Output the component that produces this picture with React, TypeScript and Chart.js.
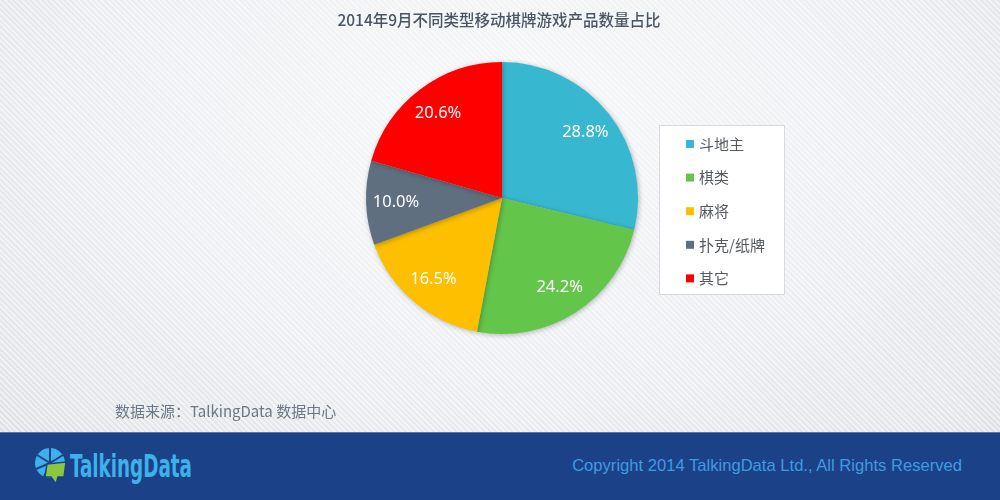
import React, { useEffect, useRef } from "react";
import { Chart, registerables } from "chart.js";

Chart.register(...registerables);

const title = "2014年9月不同类型移动棋牌游戏产品数量占比";
const categories = ["斗地主", "棋类", "麻将", "扑克/纸牌", "其它"];
const values = [28.8, 24.2, 16.5, 10.0, 20.6];
const colors = ["#38b8d0", "#63c54a", "#fdbf00", "#5f6f80", "#fe0000"];
const sourceText = "数据来源：TalkingData 数据中心";
const copyrightText = "Copyright 2014 TalkingData Ltd., All Rights Reserved";

const CJK = '"Noto Sans CJK SC", "Noto Sans", sans-serif';

const titlePlugin = {
  id: "titleText",
  afterDraw(chart: any) {
    const ctx = chart.ctx;
    ctx.save();
    ctx.font = `500 15.5px ${CJK}`;
    ctx.fillStyle = "#4a5563";
    ctx.textAlign = "center";
    ctx.textBaseline = "middle";
    ctx.fillText(title, 499, 20);
    ctx.restore();
  },
};

const shadowPlugin = {
  id: "pieShadow",
  beforeDatasetsDraw(chart: any) {
    const ctx = chart.ctx;
    ctx.save();
    ctx.shadowColor = "rgba(0,0,0,0.28)";
    ctx.shadowBlur = 5;
    ctx.shadowOffsetX = 1;
    ctx.shadowOffsetY = 1;
  },
  afterDatasetsDraw(chart: any) {
    chart.ctx.restore();
  },
};

const labelPlugin = {
  id: "sliceLabels",
  afterDatasetsDraw(chart: any) {
    const ctx = chart.ctx;
    const meta = chart.getDatasetMeta(0);
    const data = chart.data.datasets[0].data as number[];
    ctx.save();
    ctx.font = `16.5px "Noto Sans", sans-serif`;
    ctx.fillStyle = "#ffffff";
    ctx.textAlign = "center";
    ctx.textBaseline = "middle";
    meta.data.forEach((arc: any, i: number) => {
      const p = arc.getProps(["x", "y", "startAngle", "endAngle", "outerRadius"], true);
      const mid = (p.startAngle + p.endAngle) / 2;
      const r = p.outerRadius * 0.78;
      ctx.fillText(`${data[i].toFixed(1)}%`, p.x + Math.cos(mid) * r, p.y + Math.sin(mid) * r);
    });
    ctx.restore();
  },
};

const legendPlugin = {
  id: "boxLegend",
  afterDraw(chart: any) {
    const ctx = chart.ctx;
    const labels = chart.data.labels as string[];
    const bg = chart.data.datasets[0].backgroundColor as string[];
    ctx.save();
    ctx.fillStyle = "#ffffff";
    ctx.strokeStyle = "#d6dadd";
    ctx.lineWidth = 1;
    ctx.fillRect(659.5, 125.5, 125, 169);
    ctx.strokeRect(659.5, 125.5, 125, 169);
    ctx.font = `15px ${CJK}`;
    ctx.textBaseline = "middle";
    ctx.textAlign = "left";
    labels.forEach((lab, i) => {
      const y = 144 + i * 33.6;
      ctx.fillStyle = bg[i];
      ctx.fillRect(686, y - 4, 8, 8);
      ctx.fillStyle = "#555a60";
      ctx.fillText(lab, 699, y);
    });
    ctx.restore();
  },
};

export default function App() {
  const ref = useRef<HTMLCanvasElement | null>(null);

  useEffect(() => {
    if (!ref.current) return;
    const chart = new Chart(ref.current, {
      type: "pie",
      data: {
        labels: categories,
        datasets: [
          {
            data: values,
            backgroundColor: colors,
            borderWidth: 0,
          },
        ],
      },
      options: {
        responsive: false,
        animation: false,
        layout: { padding: { left: 366, right: 362, top: 62, bottom: 98 } },
        plugins: {
          legend: { display: false },
          tooltip: { enabled: false },
          title: { display: false },
        },
      },
      plugins: [shadowPlugin, labelPlugin, legendPlugin, titlePlugin],
    });
    return () => chart.destroy();
  }, []);

  return (
    <div
      style={{
        position: "fixed",
        left: 0,
        top: 0,
        width: 1000,
        height: 500,
        overflow: "hidden",
        background:
          "repeating-linear-gradient(45deg, rgba(255,255,255,0.45) 0px, rgba(255,255,255,0.45) 2px, rgba(255,255,255,0) 2px, rgba(255,255,255,0) 4px), radial-gradient(ellipse 70% 90% at 50% 25%, #f7f8f9 0%, #eceef1 55%, #dee2e6 100%)",
        fontFamily: CJK,
      }}
    >
      <canvas
        ref={ref}
        width={1000}
        height={432}
        style={{ position: "absolute", left: 0, top: 0, width: 1000, height: 432 }}
      />
      <div
        style={{
          position: "absolute",
          left: 115,
          top: 400,
          fontSize: 15,
          lineHeight: "22px",
          color: "#6c7885",
          whiteSpace: "nowrap",
        }}
      >
        {sourceText}
      </div>
      <div
        style={{
          position: "absolute",
          left: 0,
          top: 432,
          width: 1000,
          height: 68,
          background: "#1b4288",
          borderTop: "1px solid #5c78ae",
          boxSizing: "border-box",
        }}
      >
        <svg width={200} height={68} style={{ position: "absolute", left: 0, top: 0 }}>
          <circle cx={50} cy={30} r={15} fill="#3db1ea" />
          <path d="M50 30 L50 15 M50 30 L63 22 M50 30 L37 22 M50 30 L36 36 M50 30 L44 44" stroke="#1b4288" strokeWidth={2} />
          <path d="M47 31 L66 29 L64 44 L58 44 L56 51 L51 44 L45 44 Z" fill="#8dc63f" stroke="#1b4288" strokeWidth={1.5} />
          <text
            x={70}
            y={44}
            textLength={122}
            lengthAdjust="spacingAndGlyphs"
            fill="#3db1ea"
            style={{ fontFamily: '"DejaVu Sans Condensed", "DejaVu Sans", sans-serif', fontWeight: 700, fontSize: 32 }}
          >
            TalkingData
          </text>
        </svg>
        <div
          style={{
            position: "absolute",
            right: 38,
            top: 22,
            fontFamily: '"Liberation Sans", Arial, sans-serif',
            fontSize: 16.6,
            lineHeight: "22px",
            color: "#3f9be0",
            whiteSpace: "nowrap",
          }}
        >
          {copyrightText}
        </div>
      </div>
    </div>
  );
}
